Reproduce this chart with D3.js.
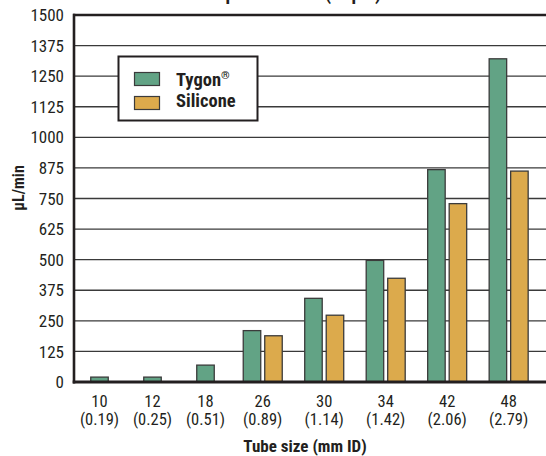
<!DOCTYPE html>
<html>
<head>
<meta charset="utf-8">
<script src="https://cdn.jsdelivr.net/npm/d3@7"></script>
<style>
  html, body { margin: 0; padding: 0; background: #fff; }
  svg { display: block; }
  text { font-family: "Liberation Sans Narrow", "Arial Narrow", "Roboto Condensed", "DejaVu Sans Condensed", sans-serif; fill: #231f20; }
</style>
</head>
<body>
<svg id="chart" width="546" height="456"></svg>
<script>
// ---- data ----
const categories = ["10", "12", "18", "26", "30", "34", "42", "48"];
const idLabels = ["(0.19)", "(0.25)", "(0.51)", "(0.89)", "(1.14)", "(1.42)", "(2.06)", "(2.79)"];
const tygon = [20, 20, 69, 210, 342, 497, 868, 1321];
const silicone = [null, null, null, 189, 273, 424, 729, 862];
const seriesNames = ["Tygon", "Silicone"];
const yTickValues = [0, 125, 250, 375, 500, 625, 750, 875, 1000, 1125, 1250, 1375, 1500];
const chartTitle = "Output flow rate (1 rpm)";
const yTitle = "µL/min";
const xTitle = "Tube size (mm ID)";

// ---- styles ----
const colors = { Tygon: "#62a385", Silicone: "#dcaa4c" };
const W = 546, H = 456;
const plot = { left: 74, right: 546, top: 15, bottom: 382 };

const svg = d3.select("#chart");

// y scale
const y = d3.scaleLinear().domain([0, 1500]).range([plot.bottom, plot.top]);

// x layout: each group's width depends on how many series it has
const groups = categories.map((c, i) => {
  const vals = [
    { key: "Tygon", v: tygon[i] },
    { key: "Silicone", v: silicone[i] }
  ].filter(d => d.v !== null);
  return { cat: c, id: idLabels[i], vals };
});
const gapUnits = 5.25;
let acc = 0;
groups.forEach(g => {
  g.units = g.vals.length + gapUnits;
  g.start = acc;
  acc += g.units;
  g.mid = g.start + g.units / 2;
});
const x = d3.scaleLinear().domain([0, acc]).range([73, 539.4]);
const barW = 17.5, barStep = 21.5;

// gridlines
svg.append("g").selectAll("line")
  .data(yTickValues.filter(v => v > 0 && v < 1500))
  .join("line")
  .attr("x1", plot.left).attr("x2", W)
  .attr("y1", d => y(d)).attr("y2", d => y(d))
  .attr("stroke", "#3a3a3a").attr("stroke-width", 1.4);

// top border line
svg.append("line")
  .attr("x1", plot.left - 1).attr("x2", W)
  .attr("y1", y(1500)).attr("y2", y(1500))
  .attr("stroke", "#231f20").attr("stroke-width", 2.6);

// bars
const bars = [];
groups.forEach(g => {
  const cx = x(g.mid);
  const n = g.vals.length;
  g.vals.forEach((d, j) => {
    const left = cx - ((n - 1) * barStep) / 2 + j * barStep - barW / 2;
    bars.push({ key: d.key, v: d.v, left });
  });
});
svg.append("g").selectAll("rect")
  .data(bars)
  .join("rect")
  .attr("x", d => d.left)
  .attr("y", d => y(d.v))
  .attr("width", barW)
  .attr("height", d => y(0) - y(d.v))
  .attr("fill", d => colors[d.key])
  .attr("stroke", "#3b3b3b")
  .attr("stroke-width", 1.3);

// axes lines
svg.append("line")
  .attr("x1", plot.left).attr("x2", plot.left)
  .attr("y1", y(1500) - 1.3).attr("y2", y(0) + 1.5)
  .attr("stroke", "#231f20").attr("stroke-width", 2.6);
svg.append("line")
  .attr("x1", plot.left - 1.3).attr("x2", W)
  .attr("y1", y(0)).attr("y2", y(0))
  .attr("stroke", "#231f20").attr("stroke-width", 3);

// y tick labels
svg.append("g").selectAll("text")
  .data(yTickValues)
  .join("text")
  .attr("x", 64)
  .attr("y", d => y(d))
  .attr("dy", "0.36em")
  .attr("text-anchor", "end")
  .attr("font-size", 17)
  .text(d => d);

// x tick labels
const xl = svg.append("g").selectAll("g")
  .data(groups)
  .join("g");
xl.append("text")
  .attr("x", d => x(d.mid))
  .attr("y", 407)
  .attr("text-anchor", "middle")
  .attr("font-size", 16.5)
  .text(d => d.cat);
xl.append("text")
  .attr("x", d => x(d.mid))
  .attr("y", 425)
  .attr("text-anchor", "middle")
  .attr("font-size", 16.5)
  .text(d => d.id);

// axis titles
svg.append("text")
  .attr("x", 305).attr("y", 451.5)
  .attr("text-anchor", "middle")
  .attr("font-size", 17).attr("font-weight", "bold")
  .text(xTitle);
svg.append("text")
  .attr("transform", "translate(24,188) rotate(-90)")
  .attr("text-anchor", "middle")
  .attr("font-size", 16).attr("font-weight", "bold")
  .text(yTitle);

// chart title (cut off at the top edge, only descenders show)
svg.append("text")
  .attr("x", 290).attr("y", -0.5)
  .attr("text-anchor", "middle")
  .attr("font-size", 19).attr("font-weight", "bold")
  .text(chartTitle);

// legend
const lg = svg.append("g");
lg.append("rect")
  .attr("x", 118.5).attr("y", 56.5).attr("width", 139).attr("height", 64)
  .attr("fill", "#fff").attr("stroke", "#231f20").attr("stroke-width", 2);
const legendRows = seriesNames.map((s, i) => ({ s, i }));
lg.selectAll("rect.sw")
  .data(legendRows)
  .join("rect")
  .attr("class", "sw")
  .attr("x", 134.5).attr("y", d => 72.5 + d.i * 24)
  .attr("width", 25).attr("height", 13)
  .attr("fill", d => colors[d.s])
  .attr("stroke", "#3b3b3b").attr("stroke-width", 1.2);
const lt = lg.selectAll("text.lt")
  .data(legendRows)
  .join("text")
  .attr("class", "lt")
  .attr("x", 176).attr("y", d => 86 + d.i * 21)
  .attr("font-size", 18.5).attr("font-weight", "bold")
  .text(d => d.s);
lt.filter(d => d.s === "Tygon")
  .append("tspan")
  .attr("font-size", 11).attr("dy", -7)
  .text("®");
</script>
</body>
</html>
